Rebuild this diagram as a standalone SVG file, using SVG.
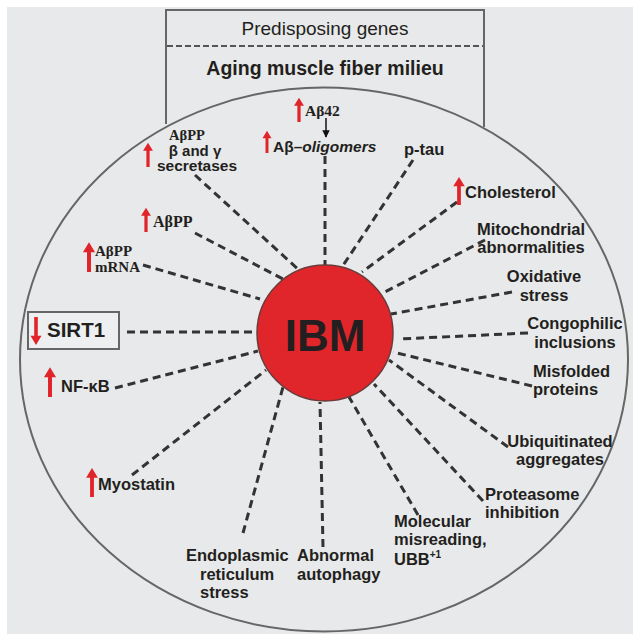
<svg xmlns="http://www.w3.org/2000/svg" xmlns:xlink="http://www.w3.org/1999/xlink" width="633" height="634" viewBox="0 0 633 634">
<style>
.lbl{font-family:"Liberation Sans",Arial,sans-serif;font-weight:bold;font-size:16.5px;fill:#231f20}
.ser{font-family:"Liberation Serif","Times New Roman",serif;font-weight:bold;font-size:16px;fill:#231f20}
.spoke{stroke:#333;stroke-width:3;stroke-dasharray:8 5;fill:none}
.arr{fill:#e0242a}
</style>
<defs>
<path id="ua" d="M-1.8,0 V-18 H-5.5 L0,-27 L5.5,-18 H1.8 V0 Z"/>
<marker id="bh" viewBox="0 0 10 10" refX="9" refY="5" markerWidth="5" markerHeight="5" orient="auto"><path d="M0,0 L10,5 L0,10 Z" fill="#111"/></marker>
</defs>
<rect x="0" y="0" width="633" height="634" fill="#ffffff"/>
<rect x="7" y="7" width="626" height="627" fill="#e8e9ea"/>

<g id="milieu-box">
<path d="M166,124 V10 H484 V127" fill="none" stroke="#666" stroke-width="2"/>
<line x1="167" y1="46" x2="483" y2="46" stroke="#555" stroke-width="1.8" stroke-dasharray="6 3"/>
<text x="325" y="35" text-anchor="middle" style="font-family:'Liberation Sans',Arial,sans-serif;font-size:19px;fill:#231f20">Predisposing genes</text>
<text x="325" y="75" text-anchor="middle" style="font-family:'Liberation Sans',Arial,sans-serif;font-weight:bold;font-size:19.5px;fill:#231f20">Aging muscle fiber milieu</text>
</g>

<g id="fiber">
<ellipse cx="324" cy="359.5" rx="304" ry="272" fill="none" stroke="#666" stroke-width="2"/>
</g>

<g id="connectors">
<line class="spoke" x1="195" y1="175" x2="300" y2="271"/>
<line class="spoke" x1="195" y1="233" x2="283" y2="279"/>
<line class="spoke" x1="143" y1="265" x2="260" y2="299"/>
<line class="spoke" x1="127" y1="332" x2="256" y2="332"/>
<line class="spoke" x1="115" y1="388" x2="258" y2="351"/>
<line class="spoke" x1="132" y1="475" x2="266" y2="370"/>
<line class="spoke" x1="243" y1="533" x2="283" y2="387"/>
<line class="spoke" x1="323" y1="547" x2="320" y2="402"/>
<line class="spoke" x1="418" y1="515" x2="349" y2="397"/>
<line class="spoke" x1="483" y1="501" x2="374" y2="384"/>
<line class="spoke" x1="508" y1="447" x2="389" y2="360"/>
<line class="spoke" x1="532" y1="386" x2="393" y2="352"/>
<line class="spoke" x1="528" y1="333" x2="399" y2="339"/>
<line class="spoke" x1="512" y1="292" x2="391" y2="314"/>
<line class="spoke" x1="485" y1="240" x2="383" y2="293"/>
<line class="spoke" x1="457" y1="202" x2="362" y2="272"/>
<line class="spoke" x1="413" y1="160" x2="342" y2="267"/>
<line class="spoke" x1="325" y1="156" x2="325" y2="265"/>
<line x1="326" y1="118" x2="326" y2="137" stroke="#111" stroke-width="1.5" marker-end="url(#bh)"/>
</g>

<g id="ibm">
<circle cx="325" cy="333" r="68" fill="#e0262b" stroke="#6b3a3a" stroke-width="1.5"/>
<text x="325" y="351" text-anchor="middle" style="font-family:'Liberation Sans',Arial,sans-serif;font-weight:bold;font-size:44px;fill:#231f20">IBM</text>
</g>

<g id="abeta42">
<use href="#ua" class="arr" transform="translate(299,122) scale(0.9)"/>
<text class="ser" x="305" y="116" style="font-size:15.5px">Aβ42</text>
</g>
<g id="oligomers">
<use href="#ua" class="arr" transform="translate(267,153) scale(0.82)"/>
<text class="lbl" x="273" y="152" style="font-size:15.5px">Aβ–<tspan style="font-style:italic">oligomers</tspan></text>
</g>
<g id="secretases">
<use href="#ua" class="arr" transform="translate(148,167) scale(0.9)"/>
<text class="ser" x="187" y="140" text-anchor="middle" style="font-size:14.5px">AβPP</text>
<text class="lbl" x="195" y="155.5" text-anchor="middle" style="font-size:15px">β and γ</text>
<text class="lbl" x="197" y="171" text-anchor="middle" style="font-size:15.5px">secretases</text>
</g>
<g id="abpp">
<use href="#ua" class="arr" transform="translate(146,232) scale(0.9)"/>
<text class="ser" x="153" y="227">AβPP</text>
</g>
<g id="abpp-mrna">
<use href="#ua" class="arr" transform="translate(89,272) scale(1.1)"/>
<text class="ser" x="95" y="256" style="font-size:15px">AβPP</text>
<text class="ser" x="95" y="272" style="font-size:15px">mRNA</text>
</g>
<g id="sirt1">
<rect x="28" y="312" width="91" height="37" fill="#eeeff0" stroke="#666" stroke-width="2"/>
<use href="#ua" class="arr" transform="translate(36,317) scale(1,-1.04)"/>
<text class="lbl" x="47" y="337" style="font-size:20.5px">SIRT1</text>
</g>
<g id="nfkb">
<use href="#ua" class="arr" transform="translate(50,397) scale(1.1)"/>
<text class="lbl" x="61" y="392">NF-κB</text>
</g>
<g id="myostatin">
<use href="#ua" class="arr" transform="translate(92,497) scale(1.07)"/>
<text class="lbl" x="98" y="490">Myostatin</text>
</g>
<g id="er-stress">
<text class="lbl" x="186" y="561">Endoplasmic</text>
<text class="lbl" x="200" y="580">reticulum</text>
<text class="lbl" x="200" y="598">stress</text>
</g>
<g id="autophagy">
<text class="lbl" x="297" y="561">Abnormal</text>
<text class="lbl" x="297" y="580">autophagy</text>
</g>
<g id="misreading">
<text class="lbl" x="394" y="527">Molecular</text>
<text class="lbl" x="394" y="545">misreading,</text>
<text class="lbl" x="394" y="565">UBB<tspan dy="-7" style="font-size:10px">+1</tspan></text>
</g>
<g id="proteasome">
<text class="lbl" x="485" y="500">Proteasome</text>
<text class="lbl" x="485" y="518">inhibition</text>
</g>
<g id="ubiquitinated">
<text class="lbl" x="560" y="447" text-anchor="middle">Ubiquitinated</text>
<text class="lbl" x="560" y="465" text-anchor="middle">aggregates</text>
</g>
<g id="misfolded">
<text class="lbl" x="533" y="377">Misfolded</text>
<text class="lbl" x="533" y="395">proteins</text>
</g>
<g id="congophilic">
<text class="lbl" x="575" y="329" text-anchor="middle">Congophilic</text>
<text class="lbl" x="575" y="348" text-anchor="middle">inclusions</text>
</g>
<g id="oxidative">
<text class="lbl" x="544" y="282" text-anchor="middle">Oxidative</text>
<text class="lbl" x="544" y="301" text-anchor="middle">stress</text>
</g>
<g id="mitochondrial">
<text class="lbl" x="531" y="235" text-anchor="middle">Mitochondrial</text>
<text class="lbl" x="531" y="253" text-anchor="middle">abnormalities</text>
</g>
<g id="cholesterol">
<use href="#ua" class="arr" transform="translate(459,205) scale(1.04)"/>
<text class="lbl" x="465" y="198">Cholesterol</text>
</g>
<g id="ptau">
<text class="lbl" x="404" y="155">p-tau</text>
</g>
</svg>
